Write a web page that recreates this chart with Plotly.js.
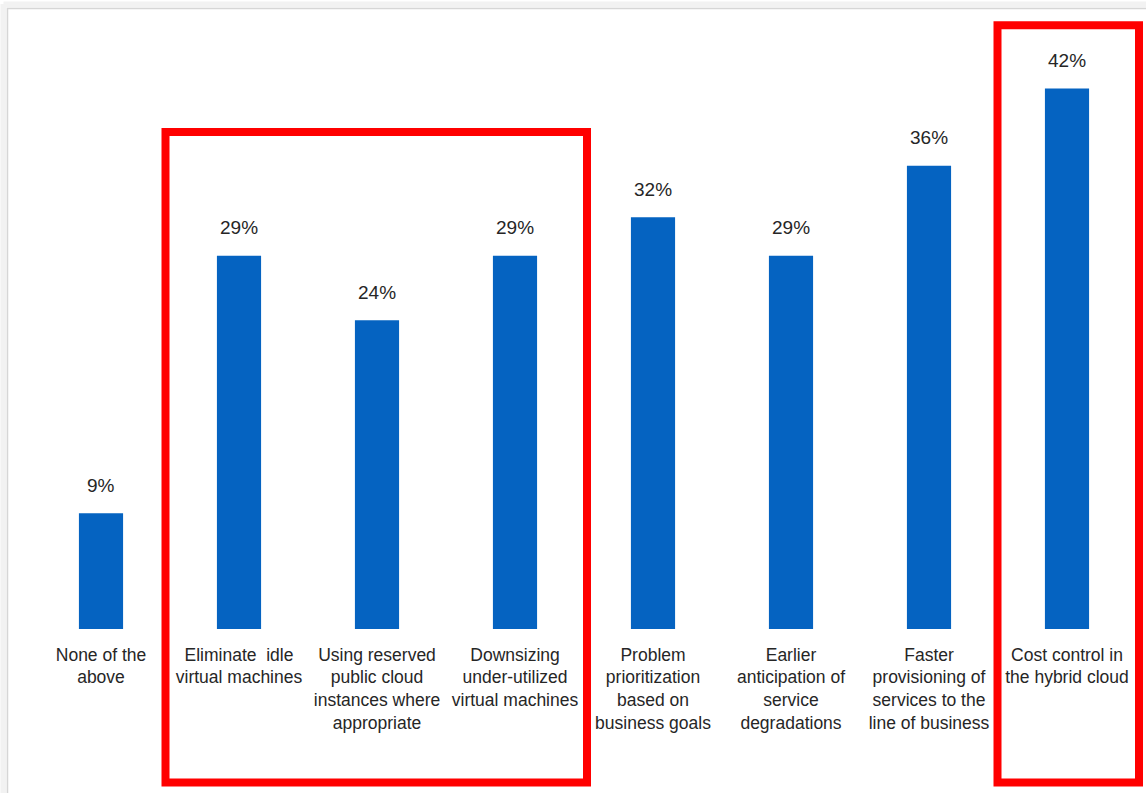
<!DOCTYPE html>
<html>
<head>
<meta charset="utf-8">
<script src="https://cdn.plot.ly/plotly-3.0.1.min.js"></script>
<style>
  html, body { margin: 0; padding: 0; background: #ffffff; }
  #chart { width: 1146px; height: 793px; }
</style>
</head>
<body>
<div id="chart"></div>
<script>
const categories = [
  "None of the<br>above",
  "Eliminate  idle<br>virtual machines",
  "Using reserved<br>public cloud<br>instances where<br>appropriate",
  "Downsizing<br>under-utilized<br>virtual machines",
  "Problem<br>prioritization<br>based on<br>business goals",
  "Earlier<br>anticipation of<br>service<br>degradations",
  "Faster<br>provisioning of<br>services to the<br>line of business",
  "Cost control in<br>the hybrid cloud"
];
const values = [9, 29, 24, 29, 32, 29, 36, 42];
const valueLabels = ["9%", "29%", "24%", "29%", "32%", "29%", "36%", "42%"];

const W = 1146, H = 793;
const M = { l: 32, r: 10, t: 50, b: 164 };
const PW = W - M.l - M.r, PH = H - M.t - M.b;
const px = x => (x - M.l) / PW;
const py = y => (H - M.b - y) / PH;

const FONT = "Liberation Sans, Arial, sans-serif";
const TXT = "#262626";

const idx = categories.map((_, i) => i);

const trace = {
  type: "bar",
  x: idx,
  y: values,
  marker: { color: "#0563C1" },
  hoverinfo: "skip"
};

const annotations = values.map((v, i) => ({
  x: i, y: v, xref: "x", yref: "y",
  text: valueLabels[i],
  showarrow: false,
  yanchor: "middle",
  yshift: 28,
  font: { family: FONT, size: 19, color: TXT }
}));

const shapes = [
  { type: "line", xref: "paper", yref: "paper", x0: px(3.5), x1: px(3.5), y0: py(4), y1: py(H + 5), line: { color: "#f2f2f2", width: 6 } },
  { type: "line", xref: "paper", yref: "paper", x0: px(3.5), x1: px(W + 5), y0: py(4.5), y1: py(4.5), line: { color: "#f2f2f2", width: 6 } },
  { type: "line", xref: "paper", yref: "paper", x0: px(7.5), x1: px(7.5), y0: py(8), y1: py(H + 5), line: { color: "#d6d6d6", width: 1.5 } },
  { type: "line", xref: "paper", yref: "paper", x0: px(7), x1: px(W + 5), y0: py(8.5), y1: py(8.5), line: { color: "#d6d6d6", width: 1.5 } },
  { type: "rect", xref: "paper", yref: "paper", x0: px(165.5), x1: px(587), y0: py(132), y1: py(782.5), line: { color: "#FF0000", width: 8 }, fillcolor: "rgba(0,0,0,0)" },
  { type: "rect", xref: "paper", yref: "paper", x0: px(997.5), x1: px(1139), y0: py(25.3), y1: py(782.5), line: { color: "#FF0000", width: 8 }, fillcolor: "rgba(0,0,0,0)" }
];

const layout = {
  width: W, height: H,
  margin: M,
  paper_bgcolor: "#ffffff",
  plot_bgcolor: "#ffffff",
  showlegend: false,
  bargap: 0.68,
  font: { family: FONT, size: 17.5, color: TXT },
  xaxis: {
    range: [-0.5, 7.5],
    tickmode: "array",
    tickvals: idx,
    ticktext: categories,
    tickangle: 0,
    showgrid: false, zeroline: false, showline: false, ticks: "",
    ticklabelstandoff: 13,
    tickfont: { family: FONT, size: 17.5, color: TXT },
    fixedrange: true
  },
  yaxis: {
    range: [0, 45],
    visible: false,
    fixedrange: true
  },
  annotations: annotations,
  shapes: shapes
};

Plotly.newPlot("chart", [trace], layout, { displayModeBar: false, staticPlot: true });
</script>
</body>
</html>
